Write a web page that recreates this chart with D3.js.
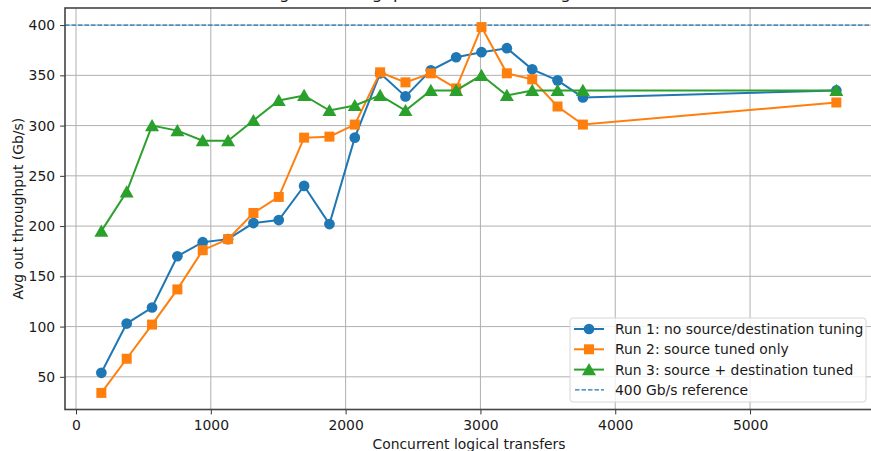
<!DOCTYPE html>
<html>
<head>
<meta charset="utf-8">
<script src="https://cdn.jsdelivr.net/npm/d3@7"></script>
<style>
  body { margin: 0; background: #fff; }
  svg { display: block; font-family: "DejaVu Sans", sans-serif; }
</style>
</head>
<body>
<svg id="chart" width="871" height="451"></svg>
<script>
// concurrent logical transfers (x)
const transfers = [188, 376, 564, 752, 940, 1128, 1316, 1504, 1692, 1880, 2068,
  2256, 2444, 2632, 2820, 3008, 3196, 3384, 3572, 3760, 5640];

// avg out throughput in Gb/s per run
const run1 = [54, 103, 119, 170, 184, 187, 203, 206, 240, 202, 288,
  352, 329, 355, 368, 373, 377, 356, 345, 328, 335];
const run2 = [34, 68, 102, 137, 176, 187, 213, 229, 288, 289, 301,
  353, 343, 352, 337, 398, 352, 346, 319, 301, 323];
const run3 = [195, 234, 300, 295, 285, 285, 305, 325, 330, 315, 320,
  330, 315, 335, 335, 350, 330, 335, 335, 335, 335];

const seriesNames = ['Run 1: no source/destination tuning', 'Run 2: source tuned only',
  'Run 3: source + destination tuned'];
const referenceValue = 400;
const referenceLabel = '400 Gb/s reference';

const xTicks = [0, 1000, 2000, 3000, 4000, 5000];
const yTicks = [50, 100, 150, 200, 250, 300, 350, 400];

const colors = ['#1f77b4', '#ff7f0e', '#2ca02c'];
const markers = [d3.symbolCircle, d3.symbolSquare, d3.symbolTriangle];
const markerSizes = [90, 100, 85];
const fontSize = 13.9;

const svg = d3.select('#chart');
const plot = {left: 65, right: 873, top: 8, bottom: 409.5};

const xScale = d3.scaleLinear().domain([-81.6, 5912]).range([plot.left, plot.right]);
const yScale = d3.scaleLinear().domain([17.5, 417]).range([plot.bottom, plot.top]);

// grid
const grid = svg.append('g').attr('class', 'grid');
grid.selectAll('line.vx').data(xTicks).enter().append('line')
  .attr('x1', d => xScale(d)).attr('x2', d => xScale(d))
  .attr('y1', plot.top).attr('y2', plot.bottom)
  .attr('stroke', '#b0b0b0').attr('stroke-width', 1);
grid.selectAll('line.hy').data(yTicks).enter().append('line')
  .attr('x1', plot.left).attr('x2', plot.right)
  .attr('y1', d => yScale(d)).attr('y2', d => yScale(d))
  .attr('stroke', '#b0b0b0').attr('stroke-width', 1);

// reference line
svg.append('line')
  .attr('x1', plot.left).attr('x2', plot.right)
  .attr('y1', yScale(referenceValue)).attr('y2', yScale(referenceValue))
  .attr('stroke', colors[0]).attr('stroke-width', 1.2)
  .attr('stroke-dasharray', '4.5,2');

// series
const runs = [run1, run2, run3];
const line = d3.line().x(d => xScale(d.x)).y(d => yScale(d.y));

runs.forEach((vals, i) => {
  const pts = transfers.map((x, j) => ({x: x, y: vals[j]}));
  const g = svg.append('g').attr('class', 'series-' + i);
  g.append('path').datum(pts)
    .attr('d', line)
    .attr('fill', 'none')
    .attr('stroke', colors[i])
    .attr('stroke-width', 2);
  g.selectAll('path.mark').data(pts).enter().append('path')
    .attr('class', 'mark')
    .attr('d', d3.symbol().type(markers[i]).size(markerSizes[i]))
    .attr('transform', d => 'translate(' + xScale(d.x) + ',' + (yScale(d.y) + (i === 2 ? 1.5 : 0)) + ')')
    .attr('fill', colors[i]);
});

// axes
const xAxis = svg.append('g')
  .attr('transform', 'translate(0,' + plot.bottom + ')')
  .call(d3.axisBottom(xScale).tickValues(xTicks).tickFormat(d3.format('d'))
    .tickSize(4.9).tickPadding(5.5).tickSizeOuter(0));
const yAxis = svg.append('g')
  .attr('transform', 'translate(' + plot.left + ',0)')
  .call(d3.axisLeft(yScale).tickValues(yTicks).tickFormat(d3.format('d'))
    .tickSize(4.9).tickPadding(5).tickSizeOuter(0));
[xAxis, yAxis].forEach(a => {
  a.select('.domain').remove();
  a.selectAll('text').attr('font-size', fontSize).attr('fill', '#1a1a1a')
    .attr('font-family', '"DejaVu Sans", sans-serif');
  a.selectAll('line').attr('stroke', '#333').attr('stroke-width', 1);
});

// frame
svg.append('rect')
  .attr('x', plot.left).attr('y', plot.top)
  .attr('width', plot.right - plot.left).attr('height', plot.bottom - plot.top)
  .attr('fill', 'none').attr('stroke', '#444').attr('stroke-width', 1.6);

// labels
svg.append('text')
  .attr('x', (plot.left + plot.right) / 2).attr('y', 449.3)
  .attr('text-anchor', 'middle').attr('font-size', fontSize).attr('fill', '#1a1a1a')
  .text('Concurrent logical transfers');
svg.append('text')
  .attr('transform', 'translate(23,' + (plot.top + plot.bottom) / 2 + ') rotate(-90)')
  .attr('text-anchor', 'middle').attr('font-size', fontSize).attr('fill', '#1a1a1a')
  .text('Avg out throughput (Gb/s)');
// title sits above the visible area, only its lower edge shows (as in the reference)
svg.append('text')
  .attr('x', (plot.left + plot.right) / 2).attr('y', -1.5)
  .attr('text-anchor', 'middle').attr('font-size', 16.7).attr('fill', '#1a1a1a')
  .text('Avg out throughput vs concurrent logical transfers');

// legend
const legend = svg.append('g').attr('transform', 'translate(570,318)');
legend.append('rect')
  .attr('width', 296).attr('height', 84).attr('rx', 3)
  .attr('fill', 'rgba(255,255,255,0.8)').attr('stroke', '#d6d6d6');
const legendItems = seriesNames.map((n, i) => ({name: n, i: i}))
  .concat([{name: referenceLabel, i: 3}]);
legendItems.forEach((d, k) => {
  const cy = 11 + k * 20.3;
  const row = legend.append('g');
  if (d.i < 3) {
    row.append('line').attr('x1', 4).attr('x2', 34).attr('y1', cy).attr('y2', cy)
      .attr('stroke', colors[d.i]).attr('stroke-width', 2);
    row.append('path')
      .attr('d', d3.symbol().type(markers[d.i]).size(markerSizes[d.i]))
      .attr('transform', 'translate(19,' + (cy + (d.i === 2 ? 1.5 : 0)) + ')')
      .attr('fill', colors[d.i]);
  } else {
    row.append('line').attr('x1', 5).attr('x2', 34).attr('y1', cy).attr('y2', cy)
      .attr('stroke', colors[0]).attr('stroke-width', 1.2).attr('stroke-dasharray', '4.5,2');
  }
  row.append('text').attr('x', 45).attr('y', cy + 5)
    .attr('font-size', fontSize).attr('fill', '#1a1a1a').text(d.name);
});
</script>
</body>
</html>
